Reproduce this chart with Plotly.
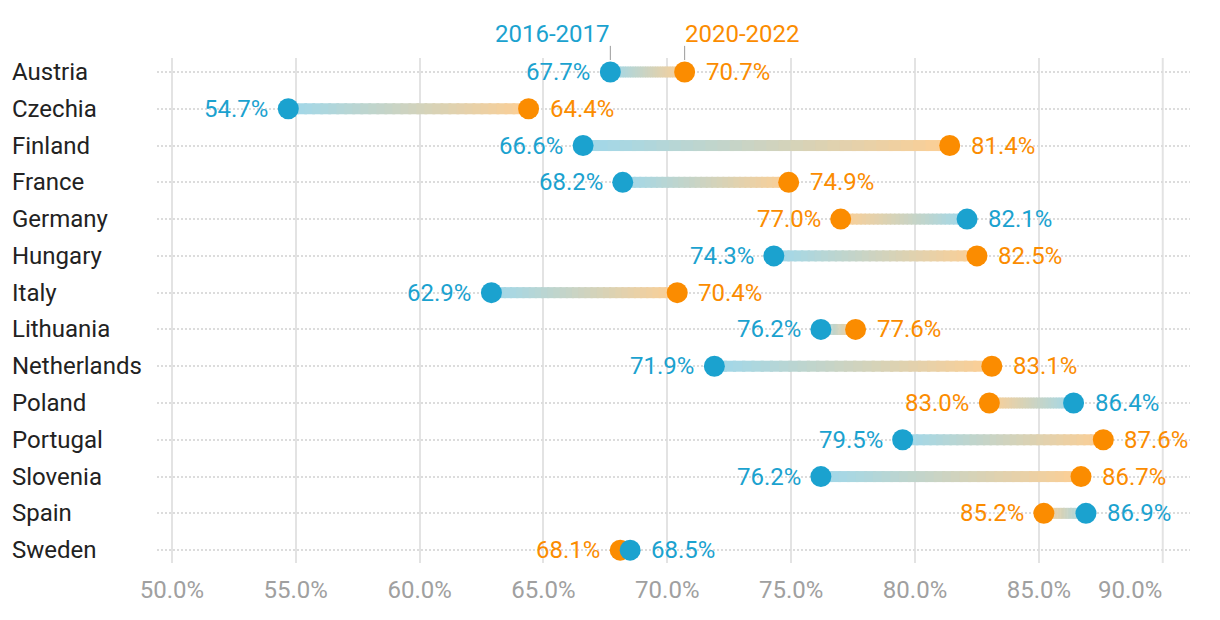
import plotly.graph_objects as go

countries = ["Austria", "Czechia", "Finland", "France", "Germany", "Hungary", "Italy",
             "Lithuania", "Netherlands", "Poland", "Portugal", "Slovenia", "Spain", "Sweden"]
v2016 = [67.7, 54.7, 66.6, 68.2, 82.1, 74.3, 62.9, 76.2, 71.9, 86.4, 79.5, 76.2, 86.9, 68.5]
v2020 = [70.7, 64.4, 81.4, 74.9, 77.0, 82.5, 70.4, 77.6, 83.1, 83.0, 87.6, 86.7, 85.2, 68.1]
series_names = ["2016-2017", "2020-2022"]
tick_vals = [50, 55, 60, 65, 70, 75, 80, 85, 90]

BLUE = (27, 162, 207)
ORANGE = (251, 140, 0)
BLUE_HEX = "#1ba2cf"
ORANGE_HEX = "#fb8c00"
FONT = "Roboto"
FS = 24

def mix(c1, c2, t, alpha=0.42):
    c = [c1[i] + (c2[i] - c1[i]) * t for i in range(3)]
    c = [255 + (ci - 255) * alpha for ci in c]
    return "rgb(%d,%d,%d)" % tuple(round(ci) for ci in c)

fig = go.Figure()

# gradient connectors
N = 30
for k in range(N):
    xs, ys = [], []
    for c, a, b in zip(countries, v2016, v2020):
        t0 = k / N
        t1 = min(1.0, (k + 1.35) / N)
        xs += [a + (b - a) * t0, a + (b - a) * t1, None]
        ys += [c, c, None]
    fig.add_trace(go.Scatter(x=xs, y=ys, mode="lines", hoverinfo="skip", showlegend=False,
                             line=dict(color=mix(BLUE, ORANGE, (k + 0.5) / N), width=11)))

fig.add_trace(go.Scatter(x=v2020, y=countries, mode="markers", name=series_names[1],
                         marker=dict(color=ORANGE_HEX, size=21), showlegend=False))
fig.add_trace(go.Scatter(x=v2016, y=countries, mode="markers", name=series_names[0],
                         marker=dict(color=BLUE_HEX, size=21), showlegend=False))

annotations = []
for c, a, b in zip(countries, v2016, v2020):
    for v, col, other in ((a, BLUE_HEX, b), (b, ORANGE_HEX, a)):
        right = v >= other
        annotations.append(dict(x=v, y=c, xref="x", yref="y", text="%.1f%%" % v,
                                showarrow=False, xanchor="left" if right else "right",
                                xshift=19 if right else -18, yshift=0,
                                font=dict(family=FONT, size=FS, color=col)))
    annotations.append(dict(x=0, y=c, xref="paper", yref="y", text=c, showarrow=False,
                            xanchor="left", xshift=-147,
                            font=dict(family=FONT, size=FS, color="#222222")))

# series header labels above the first row
first = countries[0]
annotations.append(dict(x=v2016[0], y=first, xref="x", yref="y", text=series_names[0],
                        showarrow=False, xanchor="right", yanchor="bottom", yshift=22, xshift=2,
                        font=dict(family=FONT, size=FS, color=BLUE_HEX)))
annotations.append(dict(x=v2020[0], y=first, xref="x", yref="y", text=series_names[1],
                        showarrow=False, xanchor="left", yanchor="bottom", yshift=22, xshift=-2,
                        font=dict(family=FONT, size=FS, color=ORANGE_HEX)))

# last tick label right-aligned to its gridline
annotations.append(dict(x=tick_vals[-1], y=0, xref="x", yref="paper", text="%.1f%%" % tick_vals[-1],
                        showarrow=False, xanchor="right", yanchor="middle", yshift=-27, xshift=1,
                        font=dict(family=FONT, size=FS, color="#a0a0a0")))

fig.update_layout(annotations=annotations)

# leader lines from the header labels towards the first row's points
for v in (v2016[0], v2020[0]):
    fig.add_shape(type="line", xref="x", yref="paper",
                  x0=v, x1=v, y0=0.996, y1=1.024, line=dict(color="#9a9a9a", width=1))

fig.update_layout(
    width=1220, height=620,
    margin=dict(l=157, r=30, t=58, b=57),
    plot_bgcolor="white", paper_bgcolor="white",
    font=dict(family=FONT),
    xaxis=dict(range=[49.4, 91.1], tickvals=tick_vals[:-1],
               ticktext=["%.1f%%" % t for t in tick_vals[:-1]],
               showgrid=True, gridcolor="#e3e3e3", gridwidth=2,
               zeroline=False, showline=False, ticks="", ticklen=0, ticklabelstandoff=10,
               tickfont=dict(family=FONT, size=FS, color="#a0a0a0"), fixedrange=True),
    yaxis=dict(categoryorder="array", categoryarray=countries, range=[13.35, -0.38],
               showgrid=True, gridcolor="#dcdcdc", gridwidth=1.5, griddash="2px,2px",
               showticklabels=False, zeroline=False, showline=False, ticks=""),
)
# vertical grid at the last tick
fig.add_vline(x=tick_vals[-1], line=dict(color="#e3e3e3", width=2), layer="below")

fig.write_html("out.html")
